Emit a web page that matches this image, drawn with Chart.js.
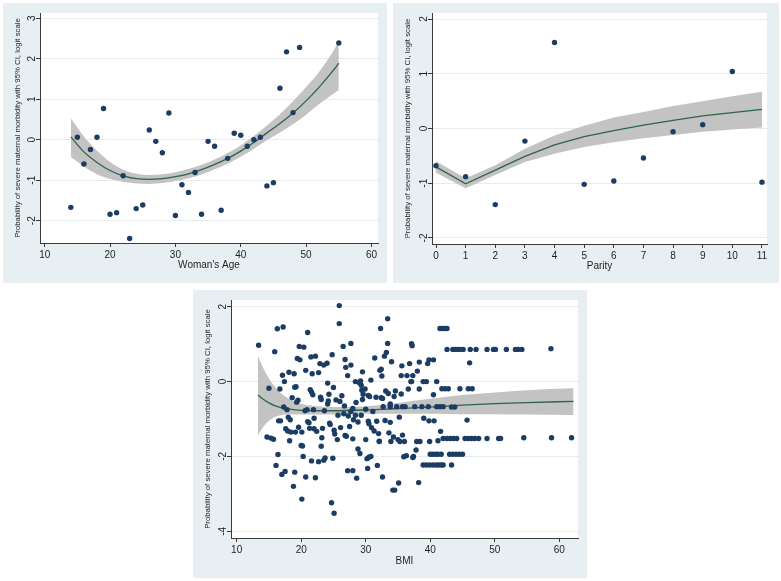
<!DOCTYPE html>
<html>
<head>
<meta charset="utf-8">
<script src="https://cdn.jsdelivr.net/npm/chart.js@4.4.0/dist/chart.umd.min.js"></script>
<style>
  body { margin: 0; background: #fff; width: 781px; height: 581px; position: relative; overflow: hidden; }
  .panel { position: absolute; background: #e8eff2; }
  .panel canvas { display: block; }
  #p1 { left: 3px; top: 3px; width: 384px; height: 280px; }
  #p2 { left: 393px; top: 3px; width: 386px; height: 280px; }
  #p3 { left: 193px; top: 290px; width: 394px; height: 288px; }
</style>
</head>
<body>
<div class="panel" id="p1"><canvas id="chart1" width="384" height="280"></canvas></div>
<div class="panel" id="p2"><canvas id="chart2" width="386" height="280"></canvas></div>
<div class="panel" id="p3"><canvas id="chart3" width="394" height="288"></canvas></div>
<script>
const yTitle = 'Probability of severe maternal morbidity with 95% CI, logit scale';

// woman's age
const ageX = [14,15,16,17,18,19,20,21,22,23,24,25,26,27,28,29,30,31,32,33,34,35,36,37,38,39,40,41,42,43,44,45,46,47,48,49,55];
const ageY = [-1.67,0.06,-0.60,-0.24,0.06,0.77,-1.84,-1.80,-0.89,-2.44,-1.70,-1.61,0.24,-0.04,-0.32,0.66,-1.87,-1.11,-1.30,-0.81,-1.84,-0.04,-0.16,-1.74,-0.46,0.16,0.11,-0.16,0.0,0.06,-1.14,-1.06,1.27,2.17,0.67,2.28,2.39];
const ageFitX = [14,16,18,20,22,24,26,28,30,32,34,36,38,40,42,44,46,48,50,52,54,55];
const ageFit = [0.07,-0.30,-0.56,-0.76,-0.89,-0.96,-0.98,-0.96,-0.91,-0.84,-0.74,-0.61,-0.46,-0.28,-0.07,0.17,0.40,0.66,0.96,1.30,1.68,1.89];
const ageHi = [0.53,0.08,-0.27,-0.55,-0.74,-0.84,-0.87,-0.85,-0.80,-0.72,-0.62,-0.49,-0.33,-0.14,0.09,0.35,0.63,0.95,1.30,1.68,2.15,2.42];
const ageLo = [-0.42,-0.66,-0.85,-0.97,-1.04,-1.08,-1.09,-1.07,-1.02,-0.95,-0.86,-0.73,-0.59,-0.42,-0.22,-0.01,0.18,0.38,0.62,0.88,1.12,1.23];

// parity
const parX = [0,1,2,3,4,5,6,7,8,9,10,11];
const parY = [-0.68,-0.88,-1.39,-0.23,1.57,-1.02,-0.96,-0.54,-0.06,0.07,1.04,-0.98];
const parFit = [-0.70,-1.01,-0.76,-0.51,-0.30,-0.15,-0.04,0.06,0.15,0.23,0.29,0.35];
const parHi = [-0.60,-0.91,-0.67,-0.37,-0.13,0.05,0.20,0.30,0.41,0.50,0.59,0.67];
const parLo = [-0.81,-1.09,-0.85,-0.61,-0.46,-0.34,-0.25,-0.18,-0.12,-0.06,-0.02,0.02];

// BMI
const bmiPts = [
  [13.4,0.97],[15.0,-0.18],[14.7,-1.48],[15.3,-1.51],[15.7,-1.54],[15.9,0.80],[16.3,1.41],[17.2,1.46],[16.1,-2.24],[16.4,-1.95],
  [16.7,-0.20],[16.5,-1.05],[16.8,-1.05],[17.1,0.17],[17.4,0.0],[17.3,-0.68],[17.0,-2.48],[17.5,-2.40],[17.6,-1.26],[17.9,-1.32],
  [18.1,0.25],[18.0,-0.95],[18.3,-1.02],[18.2,-1.58],[18.4,-1.35],[17.8,-0.75],
  [18.6,-0.43],[18.8,-2.80],[18.9,0.21],[19.0,-0.15],[19.2,-0.14],[19.1,-1.35],[19.0,-2.42],[19.3,-0.55],[19.5,-0.50],[19.4,0.62],
  [19.8,0.58],[19.7,0.94],[20.4,0.92],[19.6,-1.22],[20.1,-1.35],[20.0,-1.71],[20.2,-1.72],[20.1,-3.14],[20.3,-2.00],[20.7,0.30],
  [20.6,-0.78],[20.9,-0.75],[20.7,-2.55],[21.0,1.31],[21.0,-1.07],[21.2,-1.10],[21.3,-1.25],[21.4,-0.22],[21.6,-0.28],[21.5,0.66],
  [21.7,0.21],[21.6,-2.12],[21.8,-0.35],[22.0,-0.98],[22.2,0.68],[22.0,-1.26],[22.4,-1.33],[22.2,-2.57],[21.9,-0.75],
  [22.7,-2.14],[22.7,0.24],[22.9,0.48],[23.0,-0.42],[23.1,-0.48],[23.1,-1.73],[23.2,-1.50],[23.3,-1.25],[23.5,0.44],[23.6,-0.78],
  [23.7,-2.04],[23.5,-2.10],[24.0,0.49],[24.1,-0.04],[24.1,-0.60],[24.2,-0.52],[24.3,-0.34],[24.4,-1.11],[24.5,-1.15],[24.7,-3.24],
  [24.8,0.72],[24.9,-2.05],[25.0,-0.16],[25.1,-1.30],[25.2,-1.40],[25.1,-3.52],[25.4,-0.49],[25.6,-1.55],[25.9,2.03],[25.9,1.55],
  [26.0,-0.53],[26.1,-1.23],[26.3,-0.38],[25.7,-0.90],
  [26.5,0.94],[26.6,-0.86],[26.7,-0.65],[26.8,-1.44],[27.0,-1.46],[26.8,0.59],[26.9,0.38],[27.2,0.16],[27.2,-2.38],[27.3,-0.92],
  [27.5,-1.20],[27.7,0.44],[27.7,1.02],[27.7,-0.80],[28.0,-0.72],[28.0,-2.38],[28.0,-1.53],[28.1,-1.02],[28.4,-0.90],[28.4,0.0],
  [28.5,-0.56],[28.6,-2.58],[28.8,-1.80],[29.1,-1.92],[28.8,-1.08],[29.0,-0.03],[29.2,0.02],[29.3,-0.10],[29.4,-0.23],[29.5,-0.48],
  [29.5,0.26],[29.6,-0.34],[29.9,-0.20],[30.0,-0.74],[30.0,-1.55],[29.3,-0.90],
  [30.2,-2.06],[30.5,-2.02],[30.8,-2.00],[30.4,-1.06],[30.5,-1.13],[30.3,-2.32],[30.4,-0.37],[30.6,-0.40],[30.8,0.04],[30.9,-1.23],
  [31.1,-0.80],[31.3,-1.32],[31.4,0.63],[31.6,-0.42],[31.7,-1.06],[31.8,-2.24],[32.0,-1.39],[32.1,-1.59],[32.2,0.30],[32.4,0.33],
  [32.3,1.42],[32.4,-0.43],[32.6,-0.45],[32.5,0.15],[32.6,-2.55],[32.9,0.68],[33.0,-1.04],[33.1,-0.25],[33.2,0.78],[33.4,1.02],
  [33.4,1.68],[33.5,-0.32],[33.6,-1.37],[33.8,-0.60],[33.8,-1.09],[34.0,0.53],[34.2,-2.90],[34.5,-2.90],[34.3,-1.48],[34.4,-0.40],
  [32.7,-0.67],[33.8,-0.67],[34.8,-0.67],
  [34.6,-0.25],[35.0,-1.55],[35.2,-0.95],[35.1,-2.71],[35.3,-1.60],[35.5,-0.33],[35.6,0.42],[35.5,0.16],[35.7,-1.43],[35.9,-2.01],
  [36.0,-1.60],[35.7,-0.67],[36.1,-0.67],[36.4,0.16],[36.6,-0.20],[36.8,0.48],[37.0,0.0],[37.1,0.0],[37.3,-2.03],[37.1,1.01],
  [37.2,0.96],[37.6,-0.67],[37.3,0.16],[37.9,-1.60],[37.8,-1.83],[38.0,0.28],[38.2,-2.70],[38.3,-0.20],[38.3,0.52],[38.4,-1.60],
  [38.7,-0.67],[38.9,-2.23],[38.9,0.0],[39.4,0.0],[39.6,0.48],[39.8,0.58],[39.8,-1.05],[39.9,-1.60],[39.7,-0.67],[39.0,-0.98],
  [36.3,-1.98],[37.4,-2.00],[32.1,-1.60],[33.9,-1.60],
  [39.4,-2.23],[39.9,-2.23],[40.4,-2.23],[40.9,-2.23],[41.3,-2.23],[41.7,-2.23],[42.0,-2.23],[43.3,-2.23],
  [40.0,-1.94],[40.4,-1.94],[40.8,-1.94],[41.2,-1.94],[41.7,-1.94],[43.0,-1.94],[43.5,-1.94],[44.0,-1.94],[44.5,-1.94],[45.0,-1.94],
  [40.5,-0.35],[40.6,-1.05],[41.0,0.0],[41.0,-0.67],[41.5,-0.67],[42.0,-0.67],[43.3,-0.68],[43.8,-0.68],[41.6,-1.33],[40.5,0.58],
  [41.2,-1.58],[45.7,-1.03],[46.1,0.50],
  [41.5,1.42],[41.9,1.42],[42.3,1.42],[42.6,1.42],
  [41.8,-0.19],[42.3,-0.19],[42.8,-0.19],[44.6,-0.19],[45.9,-0.19],[46.5,-0.19],
  [42.6,0.86],[43.5,0.86],[43.9,0.86],[44.2,0.86],[44.6,0.86],[45.1,0.86],[46.2,0.86],[47.1,0.86],[48.8,0.86],[49.8,0.86],
  [50.1,0.86],[51.8,0.86],[53.2,0.86],[53.6,0.86],[54.2,0.86],[58.7,0.88],
  [42.0,-1.52],[42.6,-1.52],[43.1,-1.52],[43.6,-1.52],[44.1,-1.52],[45.4,-1.52],[45.9,-1.52],[46.4,-1.52],[46.9,-1.52],[47.5,-1.52],
  [48.8,-1.52],[50.6,-1.52],[50.9,-1.52],[54.5,-1.50],[58.8,-1.50],[61.9,-1.50]
];
const bmiFitX = [13.3,14,15,16,17,18,20,22,25,30,35,40,45,50,55,62.2];
const bmiFit = [-0.36,-0.46,-0.57,-0.65,-0.70,-0.73,-0.77,-0.78,-0.78,-0.76,-0.72,-0.68,-0.63,-0.59,-0.56,-0.53];
const bmiHi = [0.70,0.40,0.08,-0.16,-0.33,-0.45,-0.59,-0.65,-0.68,-0.66,-0.57,-0.46,-0.36,-0.29,-0.23,-0.18];
const bmiLo = [-1.44,-1.24,-1.05,-0.94,-0.89,-0.87,-0.88,-0.88,-0.88,-0.86,-0.86,-0.86,-0.87,-0.87,-0.88,-0.89];

const ageTicksX = [10,20,30,40,50,60], ageTicksY = [-2,-1,0,1,2,3];
const parTicksX = [0,1,2,3,4,5,6,7,8,9,10,11], parTicksY = [-2,-1,0,1,2];
const bmiTicksX = [10,20,30,40,50,60], bmiTicksY = [-4,-2,0,2];

const fontFam = '"Liberation Sans", Arial, sans-serif';
const dotColor = '#1c3d63';
const fitColor = '#2e6150';
const bandColor = '#c3c3c3';
const axisColor = '#3a3a3a';

function toXY(xs, ys) {
  return xs.map((x, i) => ({ x: x, y: ys[i] }));
}

const plotBg = {
  id: 'plotBg',
  beforeDraw(chart) {
    const a = chart.chartArea;
    chart.ctx.save();
    chart.ctx.fillStyle = '#fff';
    chart.ctx.fillRect(a.left, a.top, a.right - a.left, a.bottom - a.top);
    chart.ctx.restore();
  }
};

// stata style vertical y tick labels
const yLabels = {
  id: 'yLabels',
  afterDraw(chart) {
    const s = chart.scales.y;
    const ctx = chart.ctx;
    ctx.save();
    ctx.fillStyle = '#1e1e1e';
    ctx.font = '10px ' + fontFam;
    ctx.textAlign = 'center';
    ctx.textBaseline = 'middle';
    s.ticks.forEach(t => {
      ctx.save();
      ctx.translate(s.right - 8, s.getPixelForValue(t.value));
      ctx.rotate(-Math.PI / 2);
      ctx.fillText(String(t.value), 0, 0);
      ctx.restore();
    });
    ctx.restore();
  }
};

function makePanel(id, p) {
  const smooth = p.tension === 0 ? {} : { cubicInterpolationMode: 'monotone' };
  return new Chart(document.getElementById(id), {
    type: 'line',
    data: {
      datasets: [
        { type: 'scatter', data: p.points, backgroundColor: dotColor, borderWidth: 0, pointRadius: 2.7, order: 0 },
        Object.assign({ data: toXY(p.fitX, p.fit), borderColor: fitColor, borderWidth: 1.3, pointRadius: 0, fill: false, tension: 0, order: 1 }, smooth),
        Object.assign({ data: toXY(p.fitX, p.hi), borderWidth: 0, pointRadius: 0, backgroundColor: bandColor, fill: '+1', tension: 0, order: 2 }, smooth),
        Object.assign({ data: toXY(p.fitX, p.lo), borderWidth: 0, pointRadius: 0, fill: false, tension: 0, order: 3 }, smooth)
      ]
    },
    options: {
      responsive: false,
      animation: false,
      events: [],
      layout: { padding: { top: 10, right: p.rightPad, left: 0, bottom: 0 } },
      plugins: { legend: { display: false }, tooltip: { enabled: false } },
      scales: {
        x: {
          type: 'linear', min: p.xMin, max: p.xMax,
          afterFit: s => { s.height = p.xHeight; },
          afterBuildTicks: s => { s.ticks = p.xTicks.map(v => ({ value: v })); },
          grid: { drawOnChartArea: false, tickLength: 4, tickColor: axisColor },
          border: { color: axisColor, width: 1 },
          ticks: { autoSkip: false, maxRotation: 0, padding: 2, color: '#1e1e1e', font: { size: 10, family: fontFam } },
          title: { display: true, text: p.xTitle, color: '#1e1e1e', font: { size: 10, family: fontFam }, padding: { top: 0, bottom: p.xTitlePad } }
        },
        y: {
          type: 'linear', min: p.yMin, max: p.yMax,
          afterFit: s => { s.width = p.yWidth; },
          afterBuildTicks: s => { s.ticks = p.yTicks.map(v => ({ value: v })); },
          grid: { color: '#e4ecee', lineWidth: 1, tickLength: 4, tickColor: axisColor },
          border: { color: axisColor, width: 1 },
          ticks: { display: false },
          title: { display: true, text: yTitle, color: '#1e1e1e', font: { size: 7.8, family: fontFam }, padding: { top: 10.4, bottom: 0 } }
        }
      }
    },
    plugins: [plotBg, yLabels]
  });
}

makePanel('chart1', {
  points: toXY(ageX, ageY), fitX: ageFitX, fit: ageFit, hi: ageHi, lo: ageLo,
  xMin: 9.28, xMax: 61, yMin: -2.55, yMax: 3.13, xTicks: ageTicksX, yTicks: ageTicksY,
  xTitle: "Woman's Age", rightPad: 9, xHeight: 40, yWidth: 37, xTitlePad: 12
});
makePanel('chart2', {
  points: toXY(parX, parY), fitX: parX, fit: parFit, hi: parHi, lo: parLo, tension: 0,
  xMin: -0.135, xMax: 11.17, yMin: -2.11, yMax: 2.11, xTicks: parTicksX, yTicks: parTicksY,
  xTitle: 'Parity', rightPad: 12, xHeight: 39, yWidth: 39, xTitlePad: 10.3
});
makePanel('chart3', {
  points: bmiPts.map(d => ({ x: d[0], y: d[1] })), fitX: bmiFitX, fit: bmiFit, hi: bmiHi, lo: bmiLo,
  xMin: 9.12, xMax: 62.9, yMin: -4.18, yMax: 2.18, xTicks: bmiTicksX, yTicks: bmiTicksY,
  xTitle: 'BMI', rightPad: 9, xHeight: 40, yWidth: 38, xTitlePad: 10.3
});
</script>
</body>
</html>
